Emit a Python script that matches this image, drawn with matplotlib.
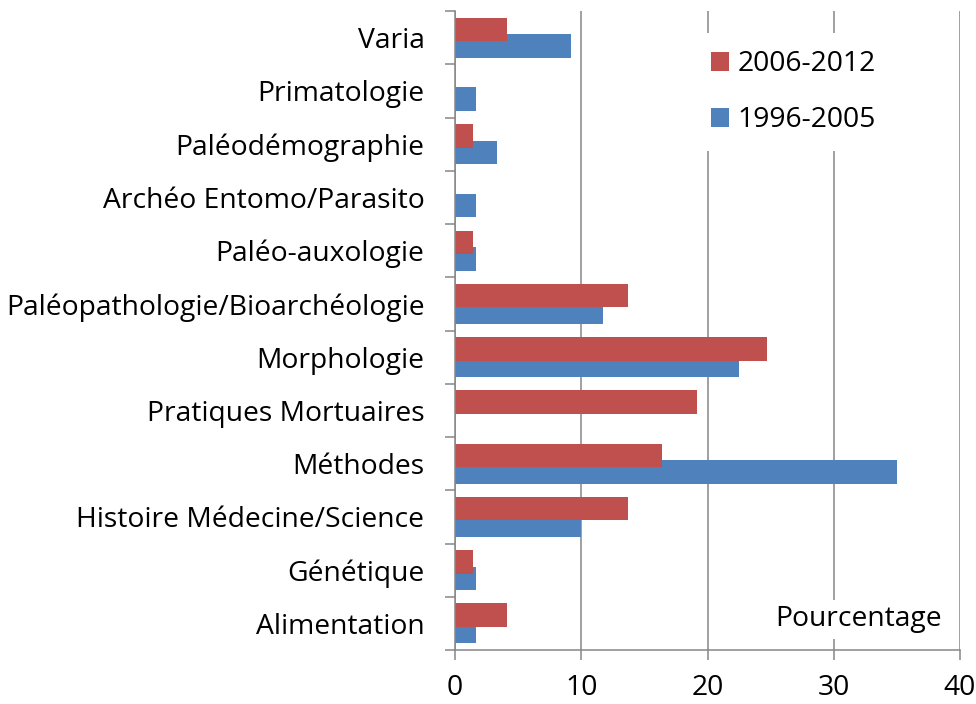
import matplotlib.pyplot as plt
import numpy as np
from matplotlib.ticker import FixedLocator, NullFormatter

# categories from bottom to top
categories = ["Alimentation", "Génétique", "Histoire Médecine/Science", "Méthodes",
              "Pratiques Mortuaires", "Morphologie", "Paléopathologie/Bioarchéologie",
              "Paléo-auxologie", "Archéo Entomo/Parasito", "Paléodémographie",
              "Primatologie", "Varia"]
vals_2006_2012 = [4.1, 1.4, 13.7, 16.4, 19.2, 24.7, 13.7, 1.4, 0, 1.4, 0, 4.1]
vals_1996_2005 = [1.65, 1.65, 10.0, 35.0, 0, 22.5, 11.7, 1.65, 1.65, 3.3, 1.65, 9.2]
x_ticks = [0, 10, 20, 30, 40]

plt.rcParams['font.family'] = ['Open Sans', 'DejaVu Sans']
red = '#C0504D'
blue = '#4F81BD'
gray = '#868686'
fs = 20.3

fig = plt.figure(figsize=(9.76, 7.04), dpi=100)
ax = fig.add_axes([455 / 976, 1 - 650 / 704, 505 / 976, 639 / 704])

y = np.arange(len(categories))
h = 0.44
off = 0.155
b1 = ax.barh(y - off, vals_1996_2005, height=h, color=blue, label="1996-2005", zorder=2)
b2 = ax.barh(y + off, vals_2006_2012, height=h, color=red, label="2006-2012", zorder=3)

ax.set_xlim(0, 40)
ax.set_ylim(-0.5, len(categories) - 0.5)
ax.set_xticks(x_ticks)
ax.set_xticklabels([str(t) for t in x_ticks], fontsize=fs)

# tick marks between categories, labels centred on categories
ax.yaxis.set_major_locator(FixedLocator(np.arange(-0.5, len(categories), 1)))
ax.yaxis.set_major_formatter(NullFormatter())
ax.yaxis.set_minor_locator(FixedLocator(y))
ax.set_yticklabels(categories, minor=True, fontsize=fs)
ax.tick_params(axis='y', which='major', length=7.2, width=1.1, color=gray, direction='out')
ax.tick_params(axis='y', which='minor', length=0, pad=22)
ax.tick_params(axis='x', length=7.2, width=1.1, color=gray, pad=10)

ax.grid(axis='x', color=gray, linewidth=1.1, zorder=1)
ax.set_axisbelow(True)
for s in ['top', 'right']:
    ax.spines[s].set_visible(False)
for s in ['left', 'bottom']:
    ax.spines[s].set_color(gray)
    ax.spines[s].set_linewidth(1.1)
    ax.spines[s].set_zorder(4)

leg = ax.legend(handles=[b2, b1], loc='upper left', bbox_to_anchor=(0.474, 0.965),
                fontsize=fs, frameon=True, framealpha=1, edgecolor='none',
                handlelength=0.64, handleheight=0.64, handletextpad=0.3,
                labelspacing=1.0, borderpad=0.6, borderaxespad=0, fancybox=False)
leg.set_zorder(5)

ax.text(0.964, 0.048, "Pourcentage", transform=ax.transAxes, fontsize=fs,
        ha='right', va='center', zorder=5,
        bbox=dict(facecolor='white', edgecolor='none', pad=4))

fig.savefig("out.png", dpi=100)
